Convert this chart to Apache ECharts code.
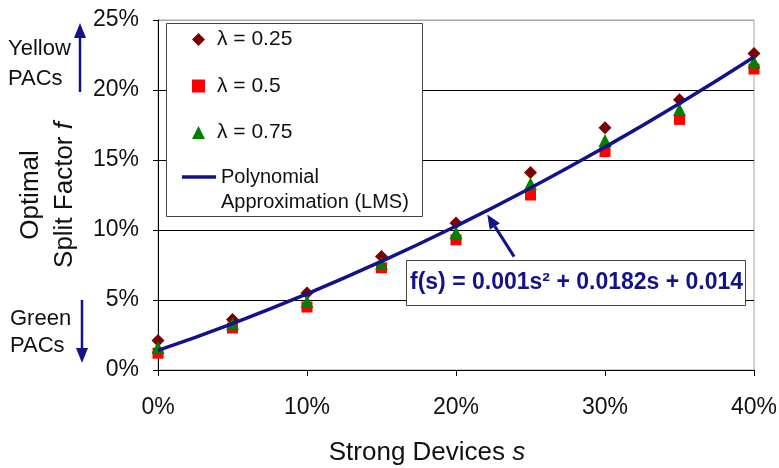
<!DOCTYPE html>
<html>
<head>
<meta charset="utf-8">
<script src="https://cdn.jsdelivr.net/npm/echarts@6/dist/echarts.min.js"></script>
<style>
  html, body { margin: 0; padding: 0; background: #fff; }
  #chart { width: 779px; height: 468px; }
</style>
</head>
<body>
<div id="chart"></div>
<script>
// Share of strong devices s (%)
const strongDevices = [0, 5, 10, 15, 20, 25, 30, 35, 40];
// Optimal split factor f (%) for each lambda
const splitLambda025 = [2.1, 3.6, 5.5, 8.1, 10.5, 14.1, 17.3, 19.3, 22.6];
const splitLambda050 = [1.2, 3.0, 4.5, 7.3, 9.3, 12.5, 15.6, 17.9, 21.5];
const splitLambda075 = [1.6, 3.3, 4.9, 7.6, 9.8, 13.3, 16.4, 18.6, 22.0];
// Polynomial approximation (LMS) at each s
const fitValues = [1.40, 3.32, 5.44, 7.76, 10.28, 13.00, 15.92, 19.04, 22.36];
// Axis ranges
const xRange = [0, 40, 10];
const yRange = [0, 25, 5];
// Equation callout: arrow head on the curve and its tail (data units)
const calloutHead = [22.1, 11.1];
const calloutTail = [23.9, 8.1];
const equationText = 'f(s) = 0.001s\u00B2 + 0.0182s + 0.014';

const FONT = 'Arial, "Liberation Sans", sans-serif';
const NAVY = '#12128a';

const pairs = (ys) => strongDevices.map((x, i) => [x, ys[i]]);

const chart = echarts.init(document.getElementById('chart'), null, { renderer: 'canvas' });

chart.setOption({
  animation: false,
  backgroundColor: '#fff',
  grid: {
    left: 158, top: 20, right: 25, bottom: 98,
    containLabel: false, outerBoundsMode: 'none',
    show: true, borderColor: '#a8a8a8', borderWidth: 1, backgroundColor: '#fff'
  },
  xAxis: {
    type: 'value', min: xRange[0], max: xRange[1], interval: xRange[2],
    axisLine: { show: true, onZero: false, lineStyle: { color: '#000', width: 1 } },
    axisTick: { show: true, length: 6, lineStyle: { color: '#000' } },
    axisLabel: { margin: 26, fontSize: 23, fontFamily: FONT, color: '#111', formatter: '{value}%' },
    splitLine: { show: false },
    name: '{t|Strong Devices }{i|s}',
    nameLocation: 'middle', nameGap: 70,
    nameTextStyle: {
      padding: [0, 58, 0, 0],
      rich: {
        t: { fontSize: 26, fontFamily: FONT, color: '#111' },
        i: { fontSize: 26, fontFamily: FONT, color: '#111', fontStyle: 'italic' }
      }
    }
  },
  yAxis: {
    type: 'value', min: yRange[0], max: yRange[1], interval: yRange[2],
    axisLine: { show: true, onZero: false, lineStyle: { color: '#000', width: 1 } },
    axisTick: { show: true, length: 5, lineStyle: { color: '#000' } },
    axisLabel: { margin: 19, fontSize: 23, fontFamily: FONT, color: '#111', formatter: '{value}%' },
    splitLine: { show: true, lineStyle: { color: ['#000', '#000', '#000', '#000', '#000', '#a8a8a8'], width: 1 } },
    name: '{t|Optimal}\n{t|Split Factor }{i|f}',
    nameLocation: 'middle', nameGap: 66, nameRotate: 90,
    nameTextStyle: {
      lineHeight: 34,
      rich: {
        t: { fontSize: 26, fontFamily: FONT, color: '#111', lineHeight: 34 },
        i: { fontSize: 26, fontFamily: FONT, color: '#111', fontStyle: 'italic', lineHeight: 34 }
      }
    }
  },
  legend: [
    {
      data: [
        { name: '\u03BB = 0.25', icon: 'diamond' },
        { name: '\u03BB = 0.5', icon: 'rect' },
        { name: '\u03BB = 0.75', icon: 'triangle' }
      ],
      orient: 'vertical', left: 192, top: 29, padding: 0,
      itemWidth: 13, itemHeight: 13, itemGap: 25.5,
      selectedMode: false, z: 6,
      itemStyle: { borderWidth: 0 },
      formatter: (name) => '{t|' + name + '}',
      textStyle: {
        fontSize: 21, fontFamily: FONT, color: '#111', lineHeight: 21,
        rich: { t: { fontSize: 21, fontFamily: FONT, color: '#111', lineHeight: 21, padding: [0, 0, 0, 7] } }
      }
    },
    {
      data: [{ name: 'Polynomial Approximation (LMS)', icon: 'rect' }],
      orient: 'vertical', left: 182, top: 139.5, padding: 0,
      itemWidth: 34, itemHeight: 3.5,
      selectedMode: false, z: 6,
      itemStyle: { borderWidth: 0 },
      formatter: () => ' \nPolynomial\nApproximation (LMS)',
      textStyle: { fontSize: 20, fontFamily: FONT, color: '#111', lineHeight: 25 }
    }
  ],
  series: [
    {
      name: '\u03BB = 0.25', type: 'scatter', data: pairs(splitLambda025),
      symbol: 'diamond', symbolSize: 13,
      itemStyle: { color: '#7f0000', opacity: 1 }
    },
    {
      name: '\u03BB = 0.5', type: 'scatter', data: pairs(splitLambda050),
      symbol: 'rect', symbolSize: 11,
      itemStyle: { color: '#ff0000', opacity: 1 }
    },
    {
      name: '\u03BB = 0.75', type: 'scatter', data: pairs(splitLambda075),
      symbol: 'triangle', symbolSize: 13,
      itemStyle: { color: '#008000', opacity: 1 }
    },
    {
      name: 'Polynomial Approximation (LMS)', type: 'line', data: pairs(fitValues),
      smooth: true, symbol: 'none',
      lineStyle: { color: NAVY, width: 3.5 },
      itemStyle: { color: NAVY }
    }
  ]
});

// Annotations: legend frame, PAC arrows and the fitted-equation callout
const head = chart.convertToPixel({ gridIndex: 0 }, calloutHead);
const tail = chart.convertToPixel({ gridIndex: 0 }, calloutTail);
const ang = Math.atan2(head[1] - tail[1], head[0] - tail[0]);
const hl = 14, hw = 6;
const bx = head[0] - hl * Math.cos(ang), by = head[1] - hl * Math.sin(ang);
const px = -Math.sin(ang) * hw, py = Math.cos(ang) * hw;

chart.setOption({
  graphic: [
    {
      type: 'rect', z: 5,
      shape: { x: 166.5, y: 23.5, width: 256, height: 193 },
      style: { fill: '#fff', stroke: '#444', lineWidth: 1 }
    },
    // Yellow PACs: arrow pointing up
    {
      type: 'text', z: 5, left: 8, top: 34,
      style: { text: 'Yellow\nPACs', font: '22px ' + FONT, fill: '#111', align: 'center', lineHeight: 30, width: 68 }
    },
    { type: 'line', z: 5, shape: { x1: 80, y1: 92, x2: 80, y2: 36 }, style: { stroke: NAVY, lineWidth: 2.5 } },
    { type: 'polygon', z: 5, shape: { points: [[80, 23], [74, 38], [86, 38]] }, style: { fill: NAVY } },
    // Green PACs: arrow pointing down
    {
      type: 'text', z: 5, left: 10, top: 305,
      style: { text: 'Green\nPACs', font: '22px ' + FONT, fill: '#111', align: 'center', lineHeight: 27, width: 68 }
    },
    { type: 'line', z: 5, shape: { x1: 82, y1: 300, x2: 82, y2: 350 }, style: { stroke: NAVY, lineWidth: 2.5 } },
    { type: 'polygon', z: 5, shape: { points: [[82, 363], [76, 348], [88, 348]] }, style: { fill: NAVY } },
    // Equation callout
    { type: 'line', z: 5, shape: { x1: tail[0], y1: tail[1], x2: bx, y2: by }, style: { stroke: NAVY, lineWidth: 3 } },
    {
      type: 'polygon', z: 5,
      shape: { points: [[head[0], head[1]], [bx + px, by + py], [bx - px, by - py]] },
      style: { fill: NAVY }
    },
    {
      type: 'rect', z: 5,
      shape: { x: 406.5, y: 260.5, width: 339, height: 45 },
      style: { fill: '#fff', stroke: '#444', lineWidth: 1 }
    },
    {
      type: 'text', z: 6, left: 410, top: 271,
      style: { text: equationText, font: 'bold 23px ' + FONT, fill: NAVY }
    }
  ]
});
</script>
</body>
</html>
